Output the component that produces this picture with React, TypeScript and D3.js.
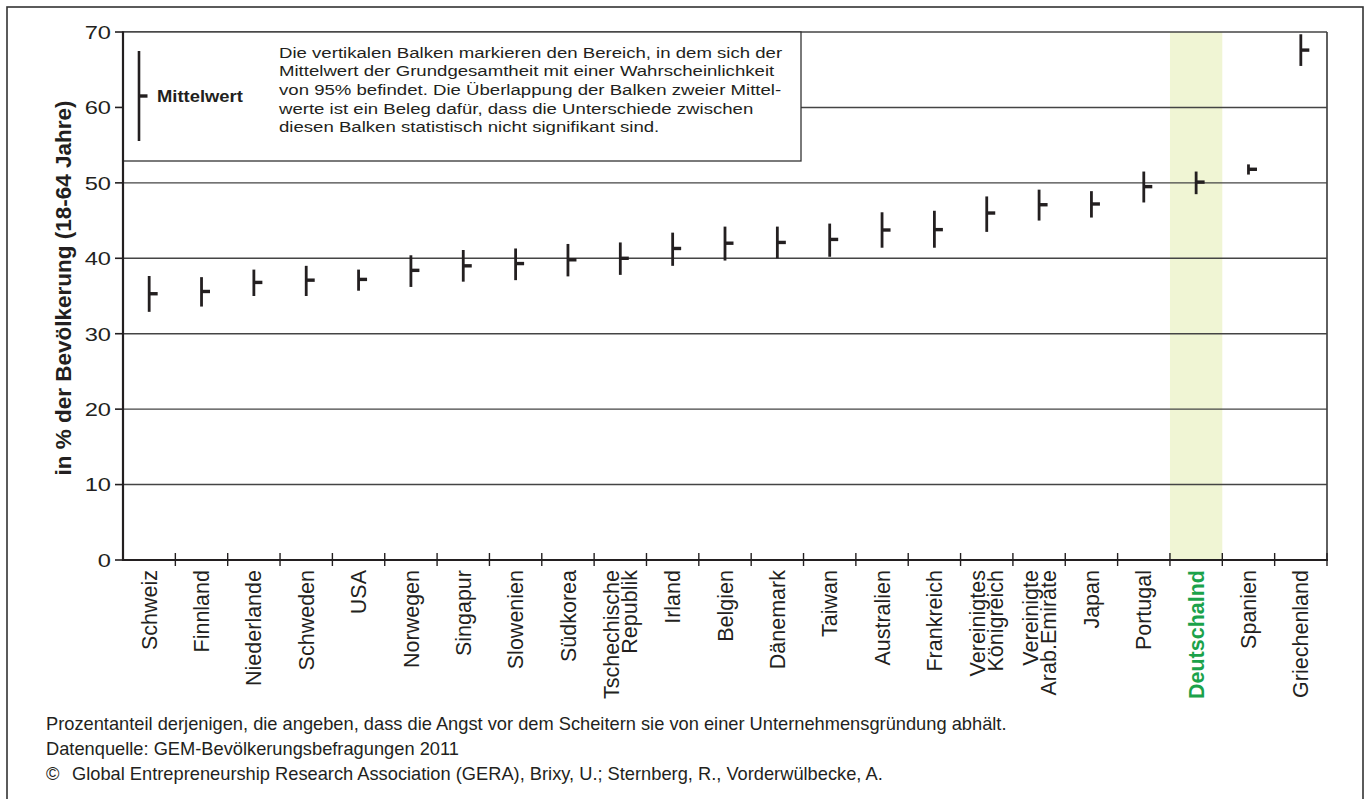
import React from "react";
import * as d3 from "d3";

const categories: string[] = [
  "Schweiz", "Finnland", "Niederlande", "Schweden", "USA", "Norwegen", "Singapur",
  "Slowenien", "Südkorea", "Tschechische\nRepublik", "Irland", "Belgien", "Dänemark",
  "Taiwan", "Australien", "Frankreich", "Vereinigtes\nKönigreich", "Vereinigte\nArab.Emirate",
  "Japan", "Portugal", "Deutschalnd", "Spanien", "Griechenland",
];
const meanValues: number[] = [
  35.3, 35.6, 36.8, 37.1, 37.2, 38.4, 39.0, 39.3, 39.8, 40.0, 41.3, 42.0, 42.1,
  42.5, 43.75, 43.8, 46.0, 47.1, 47.2, 49.5, 50.1, 51.8, 67.6,
];
const lowValues: number[] = [
  32.9, 33.6, 35.0, 35.0, 35.7, 36.2, 36.9, 37.1, 37.6, 37.8, 39.0, 39.7, 40.0,
  40.2, 41.4, 41.4, 43.5, 45.0, 45.4, 47.4, 48.5, 51.1, 65.5,
];
const highValues: number[] = [
  37.65, 37.5, 38.5, 39.0, 38.5, 40.4, 41.1, 41.3, 41.9, 42.1, 43.4, 44.2, 44.2,
  44.6, 46.1, 46.3, 48.2, 49.1, 48.9, 51.5, 51.5, 52.45, 69.7,
];
const yTicks: number[] = [0, 10, 20, 30, 40, 50, 60, 70];
const highlighted = "Deutschalnd";

const boxLines: string[] = [
  "Die vertikalen Balken markieren den Bereich, in dem sich der",
  "Mittelwert der Grundgesamtheit mit einer Wahrscheinlichkeit",
  "von 95% befindet. Die Überlappung der Balken zweier Mittel-",
  "werte ist ein Beleg dafür, dass die Unterschiede zwischen",
  "diesen Balken statistisch nicht signifikant sind.",
];
const yTitle = "in % der Bevölkerung (18-64 Jahre)";
const footnote1 = "Prozentanteil derjenigen, die angeben, dass die Angst vor dem Scheitern sie von einer Unternehmensgründung abhält.";
const footnote2 = "Datenquelle: GEM-Bevölkerungsbefragungen 2011";
const footnote3 = "Global Entrepreneurship Research Association (GERA), Brixy, U.; Sternberg, R., Vorderwülbecke, A.";

const FONT = "'Liberation Sans', Arial, Helvetica, sans-serif";
const INK = "#231f20";

function HText({ x, y, sx, size, bold, anchor, fill, children }: any) {
  return (
    <text
      transform={`translate(${x},${y}) scale(${sx},1)`}
      fontSize={size}
      fontWeight={bold ? "bold" : "normal"}
      textAnchor={anchor || "start"}
      fill={fill || INK}
      fontFamily={FONT}
    >
      {children}
    </text>
  );
}

export default function App() {
  const W = 1366, H = 799;
  const left = 123, right = 1327, top = 32, bottom = 560;

  const x = d3.scaleBand<string>().domain(categories).range([left, right]).paddingInner(0).paddingOuter(0);
  const y = d3.scaleLinear().domain([0, 70]).range([bottom, top]);
  const bw = x.bandwidth();

  const labelSize = 21.5;

  return (
    <svg
      width={W}
      height={H}
      viewBox={`0 0 ${W} ${H}`}
      style={{ position: "absolute", left: 0, top: 0, display: "block", background: "#fff" }}
    >
      {/* outer frame */}
      <rect x={7} y={7} width={1356} height={810} fill="#fff" stroke="#333" strokeWidth={1.6} />

      {/* highlight band */}
      <rect x={x(highlighted)} y={top} width={bw} height={bottom - top} fill="#f0f5d4" />

      {/* gridlines */}
      {yTicks.filter((t) => t > 0).map((t) => (
        <line key={t} x1={left} x2={right} y1={y(t)} y2={y(t)} stroke="#444" strokeWidth={1.4} />
      ))}
      {/* right border */}
      <line x1={right} x2={right} y1={top} y2={bottom} stroke="#444" strokeWidth={1.7} />

      {/* legend box */}
      <rect x={left} y={top} width={678} height={129} fill="#fff" stroke="#333" strokeWidth={1.3} />
      <line x1={139} x2={139} y1={51} y2={141} stroke={INK} strokeWidth={2.6} />
      <line x1={139} x2={147.5} y1={96} y2={96} stroke={INK} strokeWidth={3.4} />
      <HText x={157} y={102} sx={1.15} size={16} bold>Mittelwert</HText>
      {boxLines.map((l, i) => (
        <HText key={i} x={279} y={57.8 + i * 18.65} sx={1.2} size={15.5}>{l}</HText>
      ))}

      {/* error bars */}
      {categories.map((c, i) => {
        const cx = (x(c) as number) + bw / 2;
        return (
          <g key={c}>
            <line x1={cx} x2={cx} y1={y(lowValues[i])} y2={y(highValues[i])} stroke={INK} strokeWidth={2.8} />
            <line x1={cx} x2={cx + 8.5} y1={y(meanValues[i])} y2={y(meanValues[i])} stroke={INK} strokeWidth={3.4} />
          </g>
        );
      })}

      {/* y axis */}
      <line x1={left} x2={left} y1={top - 0.5} y2={bottom + 1} stroke={INK} strokeWidth={2.2} />
      {yTicks.map((t) => (
        <g key={t}>
          <line x1={115} x2={left} y1={y(t)} y2={y(t)} stroke={INK} strokeWidth={1.6} />
          <HText x={111} y={y(t) + 6.8} sx={1.28} size={18.5} anchor="end">{t}</HText>
        </g>
      ))}

      {/* x axis */}
      <line x1={left} x2={right + 1} y1={bottom} y2={bottom} stroke={INK} strokeWidth={2.2} />
      {categories.map((c) => (
        <line key={"t" + c} x1={(x(c) as number) + bw} x2={(x(c) as number) + bw} y1={bottom - 7} y2={bottom + 6} stroke={INK} strokeWidth={1.4} />
      ))}

      {/* x labels */}
      {categories.map((c) => {
        const cx = (x(c) as number) + bw / 2;
        const lines = c.split("\n");
        const isHi = c === highlighted;
        const gap = 17.7;
        return lines.map((ln, j) => {
          const off = (j - (lines.length - 1) / 2) * gap;
          return (
            <text
              key={c + j}
              transform={`translate(${cx + off + 7.6},${570}) rotate(-90)`}
              textAnchor="end"
              fontSize={labelSize}
              fontFamily={FONT}
              fontWeight={isHi ? "bold" : "normal"}
              fill={isHi ? "#1ba24a" : INK}
            >
              {ln}
            </text>
          );
        });
      })}

      {/* y title */}
      <text
        transform={`translate(71,288) rotate(-90)`}
        textAnchor="middle"
        fontSize={22.5}
        fontWeight="bold"
        fontFamily={FONT}
        fill={INK}
      >
        {yTitle}
      </text>

      {/* footnotes */}
      <HText x={46} y={730} sx={1.045} size={17.5}>{footnote1}</HText>
      <HText x={46} y={755} sx={1.045} size={17.5}>{footnote2}</HText>
      <HText x={46} y={780} sx={1.045} size={17.5}>©</HText>
      <HText x={72} y={780} sx={1.045} size={17.5}>{footnote3}</HText>
    </svg>
  );
}
